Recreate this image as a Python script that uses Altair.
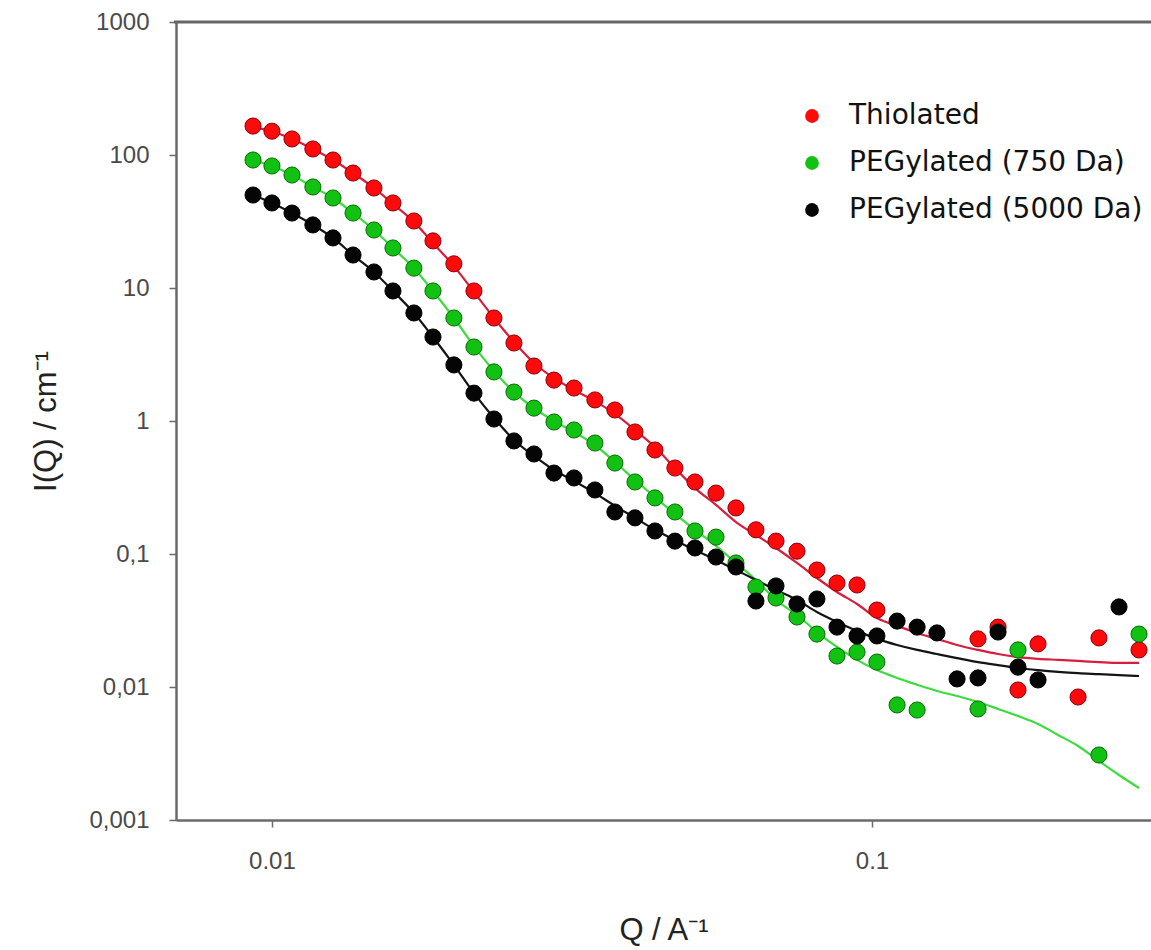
import altair as alt
import pandas as pd

# Q grid (Å^-1) on which the measured points and fitted curves lie
Q_GRID = [0.00930, 0.0100, 0.01080, 0.01170, 0.01264, 0.01365, 0.01479, 0.01591, 0.01724, 0.01855,
          0.02010, 0.02171, 0.02344, 0.02531, 0.02733, 0.02951, 0.03187, 0.03453, 0.03728, 0.04027,
          0.04348, 0.04694, 0.05070, 0.05495, 0.05933, 0.06406, 0.06918, 0.07499, 0.08095, 0.08743,
          0.09441, 0.1019, 0.1101, 0.1189, 0.1283, 0.1386, 0.1502, 0.1622, 0.1751, 0.1891,
          0.2042, 0.2205, 0.2389, 0.2580, 0.2786]

SERIES = ["Thiolated", "PEGylated (750 Da)", "PEGylated (5000 Da)"]

# measured points: indices into Q_GRID and intensities I(Q) / cm^-1
RED_IDX = list(range(32)) + [36, 37, 38, 39, 41, 42, 44]
RED_I = [165, 151, 132, 111, 91.7, 73.2, 56.5, 43.6, 31.9, 22.6,
         15.2, 9.5, 5.95, 3.86, 2.59, 2.03, 1.77, 1.44, 1.21, 0.827,
         0.605, 0.443, 0.348, 0.287, 0.222, 0.152, 0.125, 0.105, 0.0758, 0.0605,
         0.0585, 0.0379, 0.0230, 0.0282, 0.00949, 0.0211, 0.00841, 0.0234, 0.0190]

GREEN_IDX = list(range(34)) + [36, 38, 42, 44]
GREEN_I = [91.7, 82.7, 70.7, 57.5, 47.5, 36.6, 27.3, 20.0, 14.1, 9.5,
           5.95, 3.60, 2.34, 1.65, 1.25, 0.983, 0.856, 0.683, 0.483, 0.348,
           0.264, 0.207, 0.149, 0.134, 0.0856, 0.0565, 0.0467, 0.0336, 0.0250, 0.0171,
           0.0183, 0.0154, 0.00733, 0.00671, 0.00684, 0.0190, 0.00308, 0.0250]

BLACK_IDX = list(range(40)) + [43]
BLACK_I = [50.0, 43.6, 36.6, 29.8, 23.8, 17.7, 13.2, 9.5, 6.49, 4.28,
           2.64, 1.62, 1.035, 0.708, 0.565, 0.406, 0.373, 0.303, 0.207, 0.187,
           0.149, 0.125, 0.111, 0.0949, 0.0799, 0.0443, 0.0575, 0.0421, 0.0459, 0.0282,
           0.0242, 0.0242, 0.0313, 0.0282, 0.0255, 0.0115, 0.0117, 0.0259, 0.0141, 0.0113,
           0.0400]

# fitted curves on the full Q grid
RED_FIT = [162, 151, 132, 111, 91.7, 73.2, 56.5, 42.8, 31.4, 21.8,
           14.6, 9.33, 5.95, 3.93, 2.73, 2.10, 1.71, 1.41, 1.13, 0.856,
           0.637, 0.443, 0.313, 0.234, 0.174, 0.139, 0.111, 0.0856, 0.0660, 0.0518,
           0.0421, 0.0330, 0.0288, 0.0255, 0.0230, 0.0207, 0.0190, 0.0177, 0.0168, 0.0163,
           0.0160, 0.0157, 0.0154, 0.0152, 0.0152]
GREEN_FIT = [91.7, 82.7, 70.7, 57.5, 47.5, 36.6, 27.3, 20.0, 14.1, 9.5,
             5.95, 3.66, 2.38, 1.65, 1.25, 1.0, 0.827, 0.660, 0.492, 0.360,
             0.268, 0.200, 0.152, 0.115, 0.0856, 0.0638, 0.0451, 0.0348, 0.0259, 0.0200,
             0.0160, 0.0134, 0.0117, 0.0104, 0.00933, 0.00856, 0.00771, 0.00684, 0.00605, 0.00527,
             0.00436, 0.00360, 0.00278, 0.00218, 0.00174]
BLACK_FIT = [50.0, 43.6, 36.6, 29.8, 23.8, 17.7, 13.2, 9.5, 6.49, 4.28,
             2.64, 1.62, 1.054, 0.720, 0.546, 0.428, 0.354, 0.287, 0.230, 0.187,
             0.152, 0.127, 0.107, 0.0901, 0.0758, 0.0638, 0.0536, 0.0451, 0.0366, 0.0308,
             0.0264, 0.0230, 0.0207, 0.0190, 0.0177, 0.0165, 0.0154, 0.0146, 0.0139, 0.0134,
             0.0130, 0.0127, 0.0125, 0.0123, 0.0121]

X_TICKS = [0.01, 0.1]
Y_TICKS = [0.001, 0.01, 0.1, 1, 10, 100, 1000]

FILL_COLORS = ["#ff0a0a", "#12c212", "#050505"]
EDGE_COLORS = ["#8a0010", "#0a6a0a", "#000000"]
LINE_COLORS = ["#d81e3c", "#3ddc3d", "#141414"]

rows = []
for k, (name, idx, vals) in enumerate(zip(SERIES, [RED_IDX, GREEN_IDX, BLACK_IDX], [RED_I, GREEN_I, BLACK_I])):
    for i, v in zip(idx, vals):
        rows.append({"series": name, "k": k, "Q": Q_GRID[i], "I": v})
points_df = pd.DataFrame(rows)

lrows = []
for name, vals in zip(SERIES, [RED_FIT, GREEN_FIT, BLACK_FIT]):
    for q, v in zip(Q_GRID, vals):
        lrows.append({"series": name, "Q": q, "I": v})
lines_df = pd.DataFrame(lrows)

W, H = 975, 798

x_enc = alt.X("Q:Q",
              scale=alt.Scale(type="log", domain=[0.00692, 0.2917], nice=False),
              axis=alt.Axis(values=X_TICKS, format="~g", title="Q / A⁻¹",
                            labelPadding=22, titlePadding=42))
y_enc = alt.Y("I:Q",
              scale=alt.Scale(type="log", domain=[0.001, 1000], nice=False),
              axis=alt.Axis(values=Y_TICKS,
                            labelExpr="replace(format(datum.value, '~g'), '.', ',')",
                            title="I(Q) / cm⁻¹", labelPadding=20, titlePadding=26))

line_layers = []
for name, col in zip(SERIES, LINE_COLORS):
    line_layers.append(
        alt.Chart(lines_df).transform_filter(alt.datum.series == name)
        .mark_line(strokeWidth=2.2, interpolate="monotone", color=col)
        .encode(x=x_enc, y=y_enc)
    )

points = alt.Chart(points_df).mark_point(filled=True, size=260, strokeWidth=1, opacity=1, shape="circle").encode(
    x=x_enc, y=y_enc,
    color=alt.Color("series:N", sort=SERIES, scale=alt.Scale(domain=SERIES, range=FILL_COLORS),
                    legend=alt.Legend(title=None, orient="none", legendX=622, legendY=80,
                                      labelFont="DejaVu Sans", labelFontSize=28, labelColor="#111",
                                      symbolType="circle", symbolSize=190, symbolStrokeWidth=0,
                                      labelOffset=23, rowPadding=19, labelLimit=400)),
    stroke=alt.Stroke("series:N", scale=alt.Scale(domain=SERIES, range=EDGE_COLORS), legend=None),
    order=alt.Order("k:Q"),
)

top_rule = alt.Chart(pd.DataFrame({"a": [0]})).mark_rule(color="#666666", strokeWidth=3).encode(
    x=alt.value(-2), x2=alt.value(W), y=alt.value(0)
)

chart = alt.layer(*line_layers, points, top_rule).properties(
    width=W, height=H,
    autosize=alt.AutoSizeParams(type="none"),
    padding={"left": 176, "top": 22, "right": 0, "bottom": 130},
).configure_view(stroke=None).configure_axis(
    grid=False,
    domainColor="#6b6b6b", domainWidth=2.5,
    tickColor="#6b6b6b", tickSize=7, tickWidth=1.5,
    labelFont="Liberation Sans", labelFontSize=24, labelColor="#4a4a4a",
    titleFont="Liberation Sans", titleFontSize=31, titleFontWeight="normal", titleColor="#222222",
)

chart.save("out.html", embed_options={"renderer": "svg", "actions": False})
